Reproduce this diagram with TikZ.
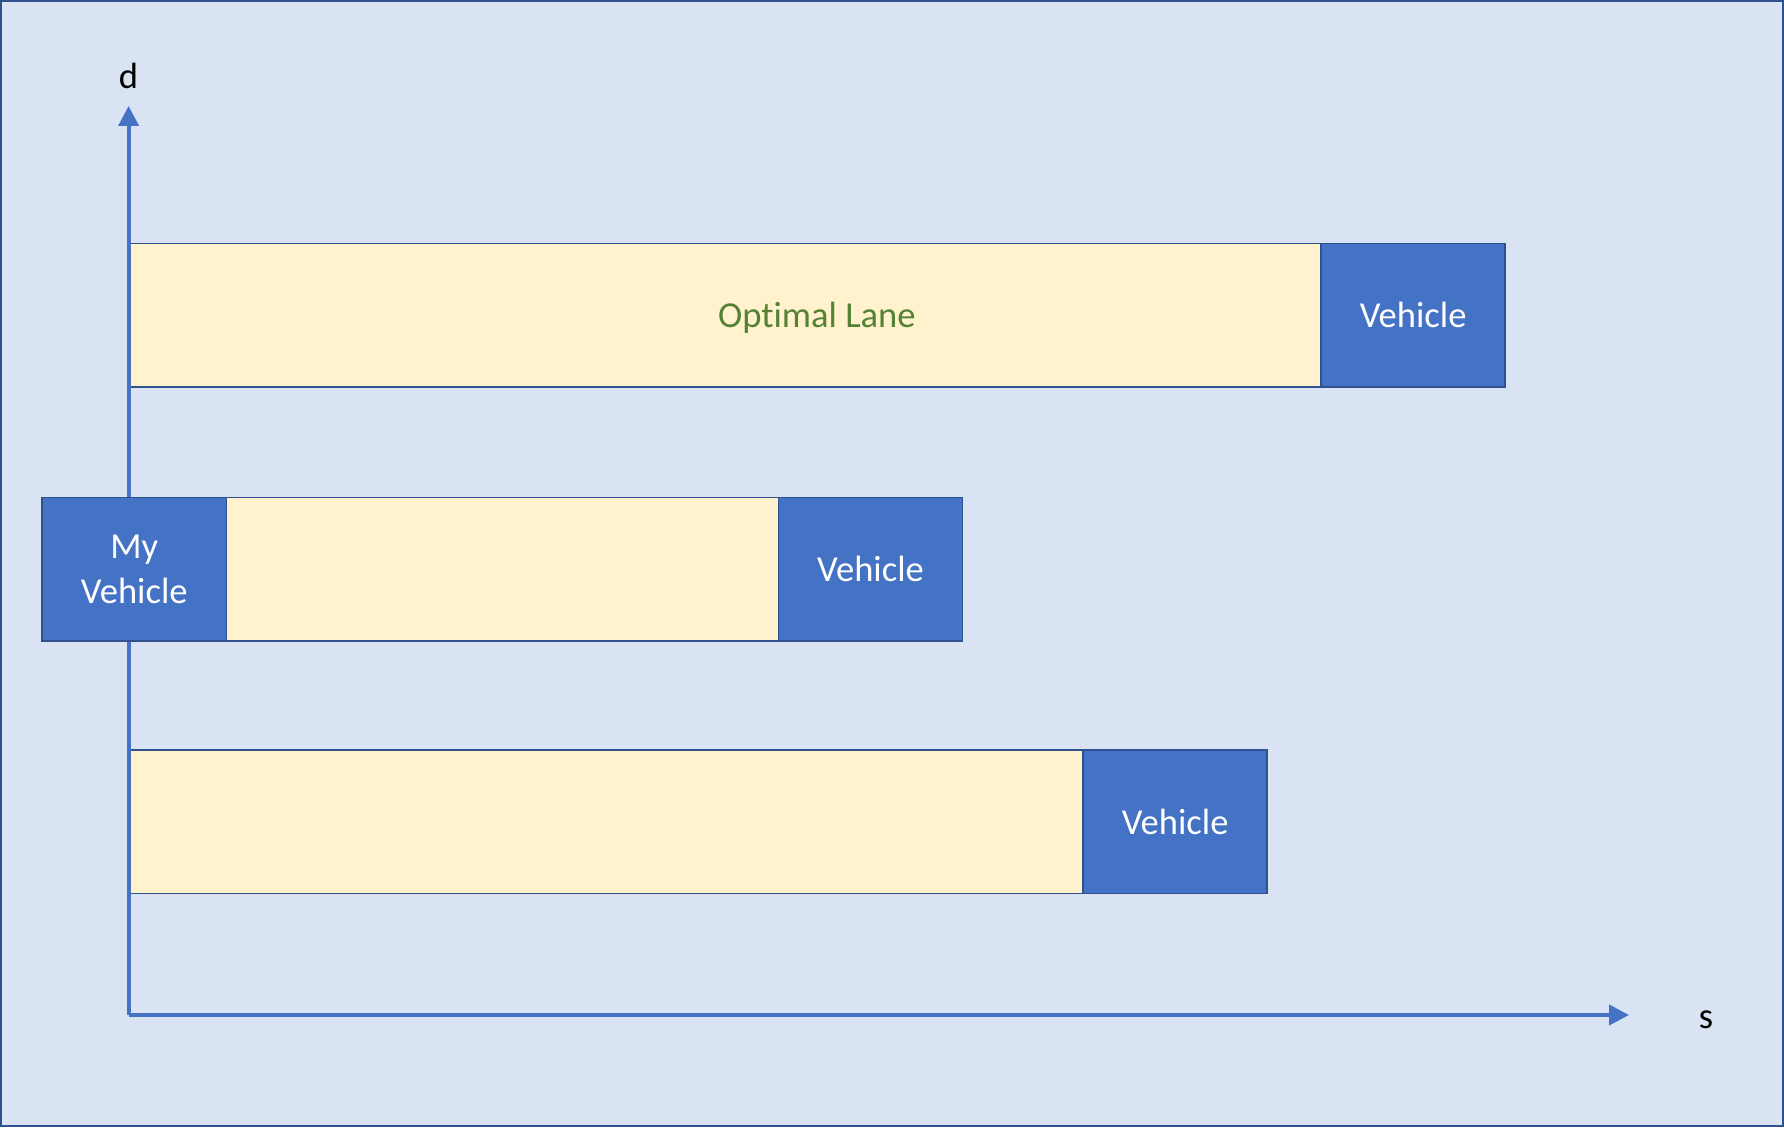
\documentclass[tikz,border=0pt]{standalone}
\usepackage{fontspec}
\setmainfont{Carlito}[Ligatures=NoCommon]
\usetikzlibrary{positioning,arrows.meta,calc}
\definecolor{bgblue}{HTML}{DAE3F3}
\definecolor{edgeblue}{HTML}{2F528F}
\definecolor{carblue}{HTML}{4472C4}
\definecolor{laneyellow}{HTML}{FFF2CC}
\definecolor{lanegreen}{HTML}{548235}
\tikzset{
	lane/.style={draw=edgeblue, fill=laneyellow, line width=1.1pt, minimum height=2.87cm, outer sep=0pt, inner sep=0pt},
	car/.style={draw=edgeblue, fill=carblue, text=white, line width=1.1pt, minimum width=3.68cm, minimum height=2.87cm, outer sep=0pt, inner sep=0pt, align=center},
	axis/.style={draw=carblue, line width=2.2pt, -{Triangle[length=0.4cm,width=0.4cm]}}
}

\begin{document}
\begin{tikzpicture}[font=\fontsize{20.8}{25.3}\selectfont]
\useasboundingbox (0,0) rectangle (35.68,22.54);
\draw[edgeblue, fill=bgblue, line width=1.13pt] (0.02,0.02) rectangle (35.66,22.52);
% lanes
\node[lane, minimum width=23.85cm, anchor=north west] (lane1) at (2.572,17.67) {};
\node[car, right=0pt of lane1] (car1) {Vehicle};
\node[text=lanegreen, text depth=0pt] at ($(lane1.west)!0.5!(car1.east)$) {Optimal Lane};
\node[lane, minimum width=19.09cm, anchor=north west] (lane3) at (2.572,7.54) {};
\node[car, right=0pt of lane3] (car3) {Vehicle};
% axes
\coordinate (O) at (2.572,2.24);
\draw[axis] (O) -- (2.572,20.42) coordinate (dtip);
\draw[axis] (O) -- (32.58,2.24) coordinate (stip);
\node (d) at (2.572,21.02) {d};
\node (s) at (34.12,2.14) {s};
% my lane
\node[car, minimum width=3.69cm, anchor=north west] (me) at (0.84,12.59) {My\\Vehicle};
\node[lane, minimum width=11.04cm, right=0pt of me] (lane2) {};
\node[car, right=0pt of lane2] (car2) {Vehicle};
\end{tikzpicture}
\end{document}
